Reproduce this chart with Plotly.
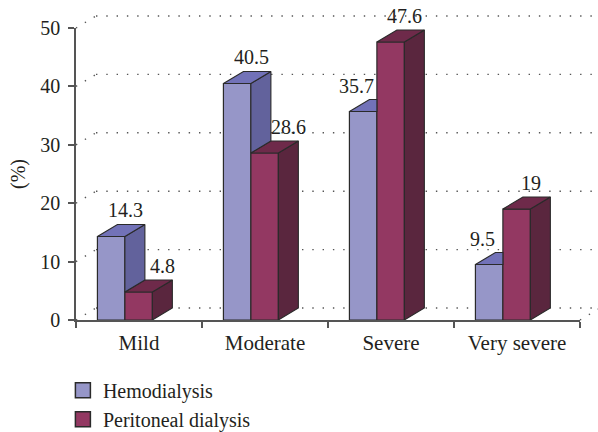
import plotly.graph_objects as go

# ---- data ----
categories = ["Mild", "Moderate", "Severe", "Very severe"]
hemodialysis = [14.3, 40.5, 35.7, 9.5]
peritoneal = [4.8, 28.6, 47.6, 19]
series_names = ["Hemodialysis", "Peritoneal dialysis"]
y_ticks = [0, 10, 20, 30, 40, 50]

# ---- style / geometry constants ----
W, H = 598, 432
ML, MR, MT, MB = 76, 18, 28, 112
PW, PH = W - ML - MR, H - MT - MB
YMAX = 50
DX_PX, DY_PX = 20, 12           # 3D depth in pixels
BAR_W = 0.218                   # bar width (category units)
BAR_OFF = -0.33                 # left edge of first bar relative to category center
FONT = "'Liberation Serif', Tinos, 'Times New Roman', 'DejaVu Serif', serif"
TXT = "#231f20"
EDGE = "#2a2a2a"
AX = "#555555"
BLUE = dict(front="#9696c8", top="#7272b8", side="#62629c")
RED = dict(front="#933862", top="#6e2a4a", side="#5a263e")

ncat = len(categories)
px_per_x = PW / ncat
px_per_y = PH / YMAX
ddx = DX_PX / px_per_x
ddy = DY_PX / px_per_y

xs = list(range(ncat))
fig = go.Figure()

# front faces as real bars
fig.add_trace(go.Bar(x=xs, y=hemodialysis, width=BAR_W, offset=BAR_OFF,
                     marker=dict(color=BLUE["front"], line=dict(color=EDGE, width=1.2)),
                     showlegend=False, hoverinfo="skip"))
fig.add_trace(go.Bar(x=xs, y=peritoneal, width=BAR_W, offset=BAR_OFF + BAR_W,
                     marker=dict(color=RED["front"], line=dict(color=EDGE, width=1.2)),
                     showlegend=False, hoverinfo="skip"))


def poly(pts, color):
    px = [p[0] for p in pts] + [pts[0][0]]
    py = [p[1] for p in pts] + [pts[0][1]]
    fig.add_trace(go.Scatter(x=px, y=py, mode="lines", fill="toself", fillcolor=color,
                             line=dict(color=EDGE, width=1.1), showlegend=False,
                             hoverinfo="skip"))


annotations = []
for i in range(ncat):
    hb, hr = hemodialysis[i], peritoneal[i]
    xb0 = i + BAR_OFF
    xb1 = xb0 + BAR_W
    xr0, xr1 = xb1, xb1 + BAR_W
    # red side & top
    poly([(xr1, 0), (xr1, hr), (xr1 + ddx, hr + ddy), (xr1 + ddx, ddy)], RED["side"])
    poly([(xr0, hr), (xr1, hr), (xr1 + ddx, hr + ddy), (xr0 + ddx, hr + ddy)], RED["top"])
    # blue side & top (clipped where hidden by the red bar)
    if hb > hr:
        poly([(xb1, hr), (xb1, hb), (xb1 + ddx, hb + ddy), (xb1 + ddx, hr + ddy)], BLUE["side"])
        poly([(xb0, hb), (xb1, hb), (xb1 + ddx, hb + ddy), (xb0 + ddx, hb + ddy)], BLUE["top"])
    else:
        poly([(xb0, hb), (xb1, hb), (xb1, hb + ddy), (xb0 + ddx, hb + ddy)], BLUE["top"])
    # value labels
    for val, x0, taller, is_blue in [(hb, xb0, hb > hr, True), (hr, xr0, hr >= hb, False)]:
        if is_blue and not taller:
            shift = -7
        elif (not is_blue) and not taller:
            shift = 24
        else:
            shift = 14
        annotations.append(dict(x=x0 + BAR_W / 2, y=val + ddy, xref="x", yref="y",
                                text=f"{val:g}", showarrow=False, xshift=shift,
                                yanchor="bottom", yshift=1,
                                font=dict(family=FONT, size=20, color=TXT)))

# legend entries
for name, c in zip(series_names, [BLUE, RED]):
    fig.add_trace(go.Scatter(x=[None], y=[None], mode="markers", name=name,
                             marker=dict(symbol="square", size=15, color=c["front"],
                                         line=dict(color=EDGE, width=1.5))))

# back wall dotted gridlines (shifted by the depth offset)
shapes = []
dxp, dyp = DX_PX / PW, DY_PX / PH
dot = dict(color="#555555", width=1.4, dash="1.4px,8.9px")
for t in y_ticks:
    yp = t / YMAX
    shapes.append(dict(type="line", xref="paper", yref="paper", x0=dxp, x1=1 + dxp,
                       y0=yp + dyp, y1=yp + dyp, line=dot, layer="below"))
    shapes.append(dict(type="line", xref="paper", yref="paper", x0=0, x1=dxp,
                       y0=yp, y1=yp + dyp, line=dot, layer="below"))
shapes.append(dict(type="line", xref="paper", yref="paper", x0=1, x1=1 + dxp,
                   y0=0, y1=dyp, line=dot, layer="below"))

annotations.append(dict(x=-58 / PW, y=0.5, xref="paper", yref="paper", text="(%)",
                        textangle=-90, showarrow=False, xanchor="center", yanchor="middle",
                        font=dict(family=FONT, size=20, color=TXT)))

fig.update_layout(
    width=W, height=H, margin=dict(l=ML, r=MR, t=MT, b=MB, autoexpand=False),
    paper_bgcolor="white", plot_bgcolor="white",
    barmode="overlay", shapes=shapes, annotations=annotations,
    font=dict(family=FONT, size=20, color=TXT),
    showlegend=True,
    legend=dict(x=-0.026, y=-0.174, xanchor="left", yanchor="top",
                font=dict(family=FONT, size=20, color=TXT),
                bgcolor="rgba(0,0,0,0)", tracegroupgap=0),
    xaxis=dict(range=[-0.5, ncat - 0.5], tickmode="array", tickvals=xs, ticktext=categories,
               ticks="", showline=True, linecolor=AX, linewidth=1.5, showgrid=False,
               zeroline=False, ticklabelstandoff=3, automargin=False,
               tickfont=dict(family=FONT, size=21, color=TXT),
               minor=dict(tickmode="array", tickvals=[i - 0.5 for i in range(ncat + 1)],
                          ticks="outside", ticklen=6, tickcolor=AX, tickwidth=1.5,
                          showgrid=False)),
    yaxis=dict(range=[0, YMAX], tickmode="array", tickvals=y_ticks, ticks="outside",
               ticklen=6, tickcolor=AX, tickwidth=1.5, showline=True, linecolor=AX,
               linewidth=1.5, showgrid=False, zeroline=False, ticklabelstandoff=4,
               automargin=False),
)

fig.write_html("out.html", config={"displayModeBar": False},
               post_script="document.body.style.margin='0';")
